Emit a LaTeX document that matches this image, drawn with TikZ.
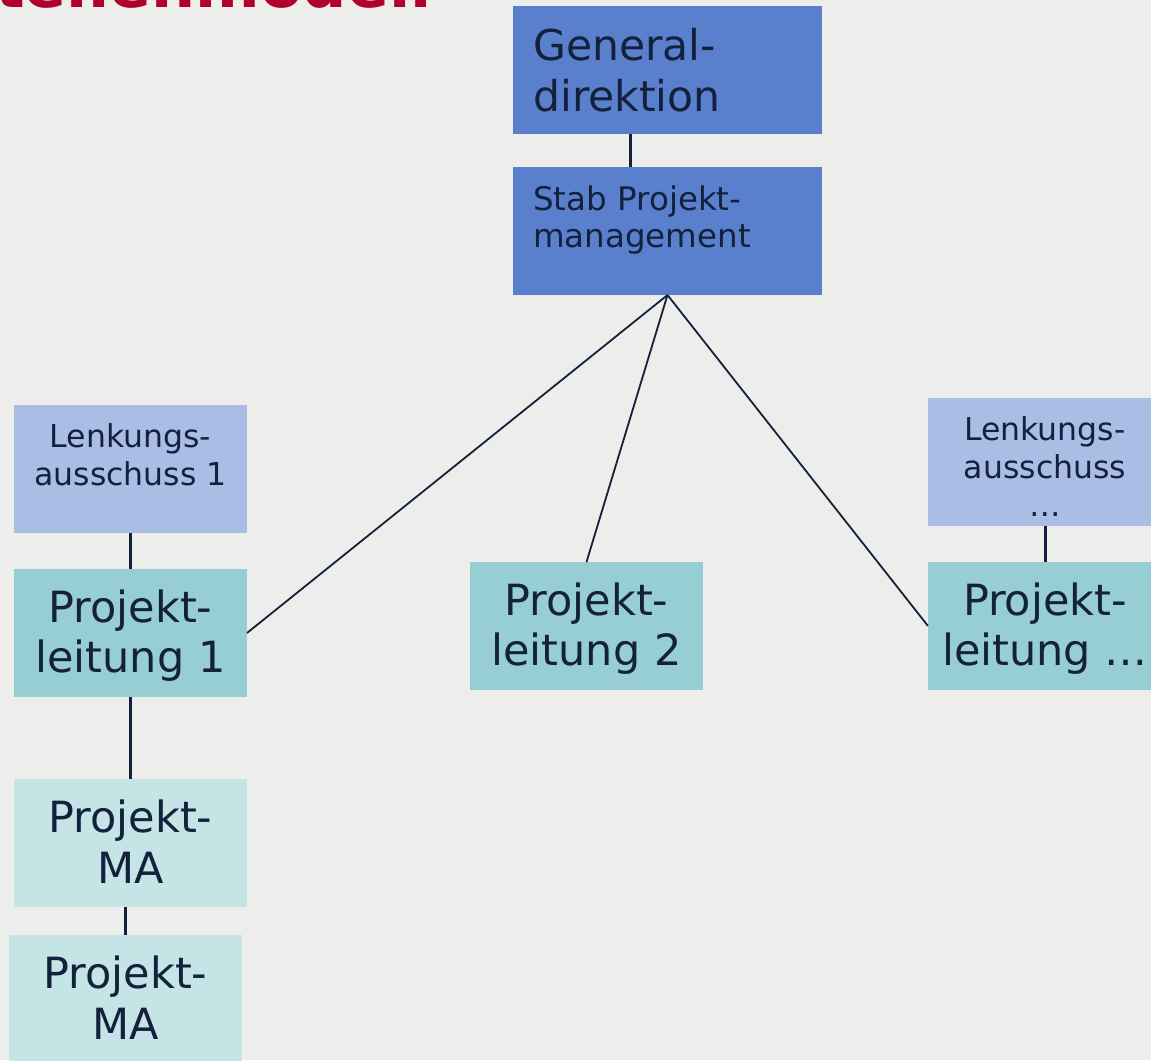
\documentclass[tikz,border=0pt]{standalone}
\usepackage{fontspec}
\setmainfont{DejaVu Sans}
\usetikzlibrary{calc}
\definecolor{bgc}{HTML}{EDEDEB}
\definecolor{navy}{HTML}{14213D}
\definecolor{boxdark}{HTML}{5A7FCC}
\definecolor{boxlav}{HTML}{A9BDE5}
\definecolor{boxteal}{HTML}{96CED3}
\definecolor{boxpale}{HTML}{C4E4E6}
\definecolor{titlered}{HTML}{B0002C}
\tikzset{
  box/.style={rectangle, anchor=north west, inner sep=0pt, outer sep=0pt, minimum width=#1},
  box/.default=233pt,
  tall/.style={minimum height=128pt},
  big/.style={anchor=base, inner sep=0pt, text=navy, font=\fontsize{43}{50}\selectfont},
  bigl/.style={anchor=base west, inner sep=0pt, text=navy, font=\fontsize{42.5}{50}\selectfont},
  mid/.style={anchor=base, inner sep=0pt, text=navy, font=\fontsize{31.5}{38}\selectfont},
  midl/.style={anchor=base west, inner sep=0pt, text=navy, font=\fontsize{32.5}{37}\selectfont},
  thick line/.style={draw=navy, line width=3pt},
  thin line/.style={draw=navy, line width=1.8pt}
}
\begin{document}
\begin{tikzpicture}[x=1pt, y=-1pt]
\useasboundingbox (0,0) rectangle (1151,1060);
\clip (0,0) rectangle (1151,1060);
\fill[bgc] (0,0) rectangle (1151,1060);

% title (cut off at the top)
\node[anchor=base east, inner sep=0pt, text=titlered, font=\bfseries\fontsize{62}{70}\selectfont] (title) at (432,7) {Stabsstellenmodell};

% boxes
\node[box=309pt, tall, fill=boxdark] (gd) at (513,6) {};
\node[box=309pt, tall, fill=boxdark] (stab) at (513,167) {};
\node[box, tall, fill=boxlav] (lk1) at (14,405) {};
\node[box, tall, fill=boxteal] (pl1) at (14,569) {};
\node[box, tall, fill=boxpale] (ma1) at (14,779) {};
\node[box, tall, fill=boxpale] (ma2) at (9,935) {};
\node[box, tall, fill=boxteal] (pl2) at (470,562) {};
\node[box=234pt, tall, fill=boxlav] (lkx) at (928,398) {};
\node[box=234pt, tall, fill=boxteal] (plx) at (928,562) {};

% texts
\node[bigl] (gd-a) at (533,60) {General-};
\node[bigl] (gd-b) at (533,111) {direktion};
\node[midl] (stab-a) at (533,210) {Stab Projekt-};
\node[midl] (stab-b) at (533,247) {management};

\node[mid] (lk1-a) at (130.5,447) {Lenkungs-};
\node[mid] (lk1-b) at (130.5,485) {ausschuss 1};
\node[big] (pl1-a) at (130.5,622) {Projekt-};
\node[big] (pl1-b) at (130.5,672) {leitung 1};
\node[big] (ma1-a) at (130.5,832) {Projekt-};
\node[big] (ma1-b) at (130.5,883) {MA};
\node[big] (ma2-a) at (125.5,988) {Projekt-};
\node[big] (ma2-b) at (125.5,1039) {MA};

\node[big] (pl2-a) at (586.5,615) {Projekt-};
\node[big] (pl2-b) at (586.5,665) {leitung 2};

\node[mid] (lkx-a) at (1045,440) {Lenkungs-};
\node[mid] (lkx-b) at (1045,478) {ausschuss};
\node[mid] (lkx-c) at (1045,516) {…};
\node[big] (plx-a) at (1045,615) {Projekt-};
\node[big] (plx-b) at (1045,665) {leitung …};

% connectors
\draw[thick line] ($(gd.south)+(-37.5,0)$) -- ($(stab.north)+(-37.5,0)$);
\draw[thin line] (stab.south) -- (pl1.east);
\draw[thin line] (stab.south) -- (pl2.north);
\draw[thin line] (stab.south) -- (plx.west);
\draw[thick line] (lk1.south) -- (pl1.north);
\draw[thick line] (pl1.south) -- (ma1.north);
\draw[thick line] (ma1.south -| ma2.north) -- (ma2.north);
\draw[thick line] (lkx.south) -- (plx.north);
\end{tikzpicture}
\end{document}
